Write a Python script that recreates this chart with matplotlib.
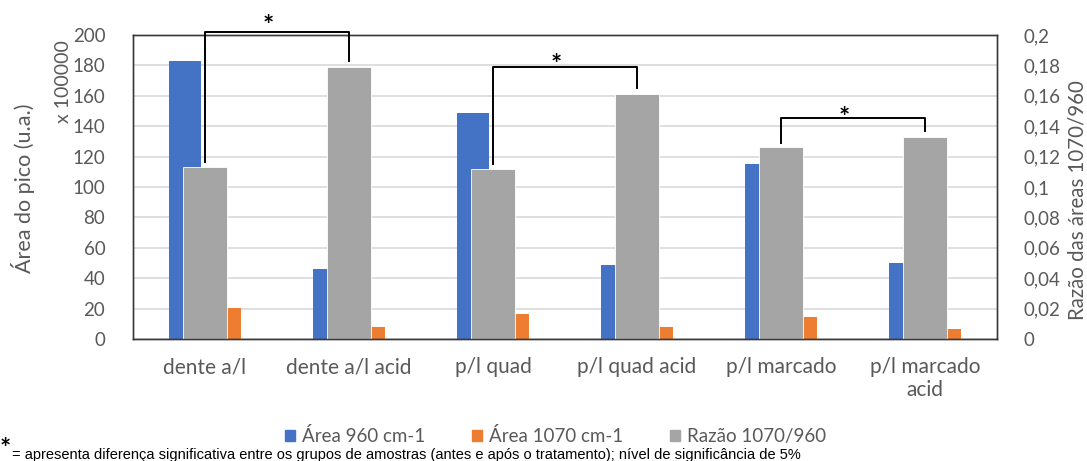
import numpy as np
import matplotlib.pyplot as plt
from matplotlib.ticker import FuncFormatter, MultipleLocator
from matplotlib.patches import Patch

plt.rcParams['font.family'] = ['Lato', 'DejaVu Sans']

categories = ['dente a/l', 'dente a/l acid', 'p/l quad', 'p/l quad acid',
              'p/l marcado', 'p/l marcado\nacid']
area_960 = [183, 46, 149, 48.5, 115, 50]
area_1070 = [20.6, 7.9, 16.4, 7.7, 14.3, 6.4]
razao = [0.1134, 0.179, 0.112, 0.161, 0.126, 0.133]
# pairs compared (before / after treatment): bracket height and star height on the ratio axis
pairs = [(0, 1, 0.202, 0.211), (2, 3, 0.179, 0.1855), (4, 5, 0.1455, 0.1505)]

BLUE = '#4472C4'
ORANGE = '#ED7D31'
GRAY = '#A5A5A5'
TXT = '#595959'

x = np.arange(len(categories))

fig = plt.figure(figsize=(10.87, 4.61), dpi=100)
ax = fig.add_axes([0.1224, 0.2646, 0.7948, 0.6595])
ax2 = ax.twinx()

ax.bar(x - 0.142, area_960, width=0.222, color=BLUE, zorder=2)
ax.bar(x + 0.142, area_1070, width=0.222, color=ORANGE, zorder=2)
ax2.bar(x, razao, width=0.306, color=GRAY, edgecolor='white', linewidth=0.6, zorder=2)

ax.set_ylim(0, 200)
ax2.set_ylim(0, 0.2)
ax.set_xlim(-0.5, len(categories) - 0.5)
ax.yaxis.set_major_locator(MultipleLocator(20))
ax2.yaxis.set_major_locator(MultipleLocator(0.02))
ax2.yaxis.set_major_formatter(FuncFormatter(lambda v, p: ('%g' % round(v, 3)).replace('.', ',')))
ax.grid(axis='y', color='#d9d9d9', linewidth=1.2, zorder=0)
ax.set_axisbelow(True)

for a in (ax, ax2):
    a.tick_params(length=0, labelsize=13.5, labelcolor=TXT)
    for s in a.spines.values():
        s.set_color('#3a3a3a')
        s.set_linewidth(1.0)
ax.tick_params(axis='y', pad=20)
ax2.tick_params(axis='y', pad=19)
ax.set_xticks(x)
ax.set_xticklabels(categories, fontsize=15, color=TXT, linespacing=1.2)
ax.tick_params(axis='x', pad=13)

fig.text(0.0207, 0.592, 'Área do pico (u.a.)', rotation=90, ha='center', va='center',
         fontsize=15.5, color=TXT)
fig.text(0.0584, 0.822, 'x 100000', rotation=90, ha='center', va='center',
         fontsize=14, color=TXT)
fig.text(0.991, 0.566, 'Razão das áreas 1070/960', rotation=90, ha='center', va='center',
         fontsize=14.8, color=TXT)

# significance brackets over the gray bars
for i, j, top, star in pairs:
    xs = [x[i], x[i], x[j], x[j]]
    ys = [razao[i] + 0.003, top, top, razao[j] + 0.004]
    ax2.plot(xs, ys, color='black', linewidth=1.4, clip_on=False, zorder=5)
    ax2.text((x[i] + x[j]) / 2 - 0.06, star - 0.005, '*', ha='center', va='center',
             fontsize=19, fontweight='bold', color='black', clip_on=False)

handles = [Patch(color=BLUE, label='Área 960 cm-1'),
           Patch(color=ORANGE, label='Área 1070 cm-1'),
           Patch(color=GRAY, label='Razão 1070/960')]
fig.legend(handles=handles, loc='center', bbox_to_anchor=(0.511, 0.054), ncol=3,
           frameon=False, fontsize=13.5, handlelength=0.55, handleheight=0.6,
           handletextpad=0.35, columnspacing=2.5, labelcolor=TXT)

fig.text(0.0, 0.026, '*', fontsize=19, fontweight='bold', ha='left', va='center')
fig.text(0.011, 0.014, '= apresenta diferença significativa entre os grupos de amostras '
         '(antes e após o tratamento); nível de significância de 5%',
         fontsize=10.5, ha='left', va='center', family=['Liberation Sans'])

fig.savefig('out.png', dpi=100)
